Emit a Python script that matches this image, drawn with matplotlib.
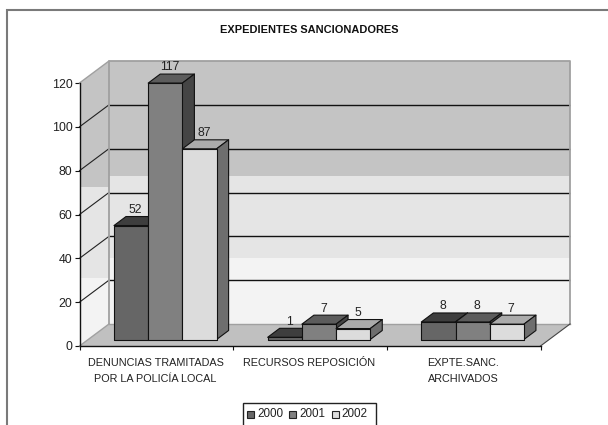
import matplotlib
matplotlib.use("Agg")
import matplotlib.pyplot as plt
from matplotlib.patches import Polygon, Rectangle

plt.rcParams['font.family'] = ['Liberation Sans', 'DejaVu Sans']

# chart data
categories = ["DENUNCIAS TRAMITADAS\nPOR LA POLICÍA LOCAL", "RECURSOS REPOSICIÓN", "EXPTE.SANC.\nARCHIVADOS"]
years = ["2000", "2001", "2002"]
values_2000 = [52, 1, 8]
values_2001 = [117, 7, 8]
values_2002 = [87, 5, 7]
y_ticks = [0, 20, 40, 60, 80, 100, 120]

W, H = 608, 425
# front plane of the box in pixels
LEFT, RIGHT, BOTTOM, TOP = 79.5, 540.5, 346, 83
X_PER_PX = 3 / (RIGHT - LEFT)
Y_PER_PX = 120 / (BOTTOM - TOP)

# depth of the box and of the bars, in pixels
DEPTH_X, DEPTH_Y = 29.5 * X_PER_PX, 22 * Y_PER_PX
BAR_OFF_X, BAR_OFF_Y = 8.5 * X_PER_PX, 6.5 * Y_PER_PX
BAR_DX, BAR_DY = 12 * X_PER_PX, 9 * Y_PER_PX
BAR_W = 34.2 * X_PER_PX
GROUP_PAD = 26 * X_PER_PX

FACE = ["#666666", "#808080", "#dcdcdc"]
TOPS = ["#3e3e3e", "#5c5c5c", "#ababab"]
SIDES = ["#3e3e3e", "#454545", "#6e6e6e"]


def poly(ax, pts, color, edge="none", lw=0.0, z=1):
    ax.add_patch(Polygon(pts, closed=True, facecolor=color, edgecolor=edge, linewidth=lw,
                         zorder=z, clip_on=False, joinstyle="round"))


def draw_walls(ax):
    # back wall colour bands, bottom to top (value limits as seen on the wall)
    bands = [(0, 30, "#f3f3f3"), (30, 67.5, "#e5e5e5"), (67.5, 120, "#c4c4c4")]
    for lo, hi, col in bands:
        poly(ax, [(DEPTH_X, lo + DEPTH_Y), (3 + DEPTH_X, lo + DEPTH_Y),
                  (3 + DEPTH_X, hi + DEPTH_Y), (DEPTH_X, hi + DEPTH_Y)], col, z=1)
    # left side wall, the bands sit level with the back wall ones
    top_a = [(0, 0), (DEPTH_X, DEPTH_Y), (DEPTH_X, 120 + DEPTH_Y), (0, 120)]
    side_bands = [(0, 31, "#f3f3f3"), (31, 72.5, "#e5e5e5"), (72.5, 130, "#c4c4c4")]
    for lo, hi, col in side_bands:
        p = Polygon(top_a, closed=True, facecolor=col, edgecolor="none", zorder=1, clip_on=True)
        ax.add_patch(p)
        r = Rectangle((0, lo), DEPTH_X, hi - lo, transform=ax.transData)
        p.set_clip_path(r)
    # floor
    poly(ax, [(0, 0), (3, 0), (3 + DEPTH_X, DEPTH_Y), (DEPTH_X, DEPTH_Y)], "#c0c0c0", z=1.5)
    # grid lines along both walls
    for v in y_ticks[1:]:
        if v < 120:
            ax.plot([DEPTH_X, 3 + DEPTH_X], [v + DEPTH_Y, v + DEPTH_Y], color="#111111",
                    lw=1.0, zorder=2, clip_on=False, solid_capstyle="butt")
            ax.plot([0, DEPTH_X], [v, v + DEPTH_Y], color="#222222", lw=0.8, zorder=2, clip_on=False)
    # wall edges
    edge = "#a0a0a0"
    ax.plot([DEPTH_X, DEPTH_X, 3 + DEPTH_X, 3 + DEPTH_X],
            [DEPTH_Y, 120 + DEPTH_Y, 120 + DEPTH_Y, DEPTH_Y], color=edge, lw=1.3, zorder=2.2, clip_on=False)
    ax.plot([DEPTH_X, 3 + DEPTH_X], [DEPTH_Y, DEPTH_Y], color=edge, lw=1.0, zorder=2.2, clip_on=False)
    ax.plot([0, DEPTH_X], [120, 120 + DEPTH_Y], color=edge, lw=1.0, zorder=2.2, clip_on=False)
    ax.plot([0, DEPTH_X], [0, DEPTH_Y], color=edge, lw=1.0, zorder=2.2, clip_on=False)
    ax.plot([3, 3 + DEPTH_X], [0, DEPTH_Y], color="#444444", lw=0.8, zorder=2.2, clip_on=False)


def draw_bar(ax, x0, v, s, z):
    y0 = BAR_OFF_Y
    # v measured on the bar's own front plane
    x1 = x0 + BAR_W
    y1 = y0 + v
    ec = "#111111"
    poly(ax, [(x0, y1), (x1, y1), (x1 + BAR_DX, y1 + BAR_DY), (x0 + BAR_DX, y1 + BAR_DY)],
         TOPS[s], ec, 0.8, z)
    poly(ax, [(x1, y0), (x1 + BAR_DX, y0 + BAR_DY), (x1 + BAR_DX, y1 + BAR_DY), (x1, y1)],
         SIDES[s], ec, 0.8, z)
    poly(ax, [(x0, y1), (x1, y1), (x1, y0), (x0, y0)], FACE[s], ec, 0.8, z + 0.1)
    ax.text(x0 + BAR_W / 2 + BAR_DX * 0.37, y1 + BAR_DY + 0.3, str(v), ha="center", va="bottom",
            fontsize=8.8, color="#222222", zorder=50)


fig = plt.figure(figsize=(W / 100, H / 100), dpi=100, facecolor="white")

# outer frame of the chart, it runs off the right and bottom of the image
fig.add_artist(Rectangle((6.5 / W, -5 / H), (W + 5) / W, (H + 5 - 10) / H, transform=fig.transFigure,
                         fill=False, edgecolor="#7a7a7a", linewidth=1.5, clip_on=False))

ax = fig.add_axes([LEFT / W, (H - BOTTOM) / H, (RIGHT - LEFT) / W, (BOTTOM - TOP) / H])
ax.set_xlim(0, 3)
ax.set_ylim(0, 120)
ax.patch.set_visible(False)
for name in ("top", "right"):
    ax.spines[name].set_visible(False)
for name in ("left", "bottom"):
    ax.spines[name].set_color("#111111")
    ax.spines[name].set_linewidth(1.0)
    ax.spines[name].set_zorder(60)

ax.set_yticks(y_ticks)
ax.set_xticks([0, 1, 2, 3])
ax.set_xticklabels([])
ax.tick_params(axis="y", length=3.5, width=0.8, color="#111111", labelsize=8.9, pad=1.5, labelcolor="#222222")
ax.tick_params(axis="x", length=3, width=0.8, color="#111111")
for i, cat in enumerate(categories):
    ax.text(i + 0.495, -5.4, cat, ha="center", va="top", fontsize=7.8, color="#222222", linespacing=1.72)

draw_walls(ax)

series = [values_2000, values_2001, values_2002]
z = 3
for g in range(len(categories)):
    for s, vals in enumerate(series):
        x0 = g + BAR_OFF_X + GROUP_PAD + s * BAR_W
        draw_bar(ax, x0, vals[g], s, z)
        z += 1

fig.text(309 / W, 1 - 30 / H, "EXPEDIENTES SANCIONADORES", ha="center", va="center",
         fontsize=7.95, fontweight="bold", color="#111111")

# legend box, cut by the lower edge of the image
fig.add_artist(Rectangle((242.5 / W, -5 / H), 133.5 / W, (H + 5 - 402.5) / H, transform=fig.transFigure,
                         facecolor="white", edgecolor="#222222", linewidth=1.0, zorder=5))
for s, year in enumerate(years):
    x = 247 + s * 42.4
    fig.add_artist(Rectangle((x / W, 1 - 417.5 / H), 7 / W, 7 / H, transform=fig.transFigure,
                             facecolor=FACE[s], edgecolor="#222222", linewidth=0.8, zorder=6))
    fig.text((x + 10) / W, 1 - 414 / H, year, ha="left", va="center", fontsize=8.4,
             color="#222222", zorder=6)

fig.savefig("out.png", dpi=100)
